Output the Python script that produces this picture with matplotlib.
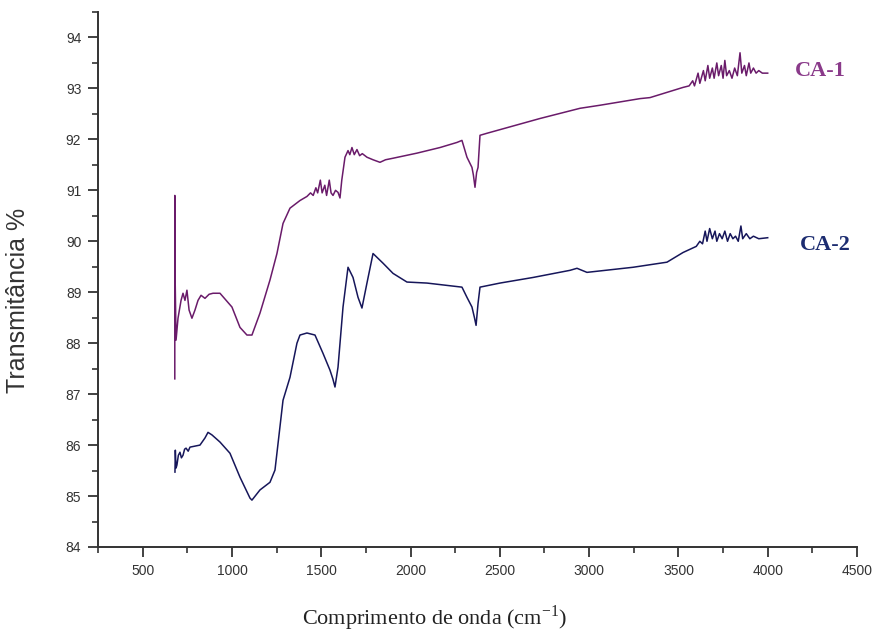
import matplotlib
matplotlib.use("Agg")
from matplotlib import pyplot as plt
from matplotlib.ticker import MultipleLocator

# CA-1
wn_ca1 = [680, 680, 681, 687, 698, 715, 726, 737, 748, 760, 776, 793, 810, 827, 849, 872, 894,
          933, 1000, 1045, 1084, 1112, 1157, 1213, 1252, 1286, 1325, 1381, 1420, 1440, 1455,
          1470, 1480, 1495, 1505, 1520, 1530, 1545, 1555, 1566, 1580, 1594, 1605, 1615, 1633,
          1650, 1660, 1672, 1685, 1700, 1715, 1730, 1756, 1790, 1829, 1860, 1902, 2036, 2165,
          2260, 2288, 2316, 2344, 2352, 2361, 2370, 2378, 2389, 2428, 2725, 2949, 3061, 3285,
          3341, 3526, 3560, 3580, 3590, 3610, 3620, 3640, 3650, 3665, 3675, 3690, 3700, 3715,
          3725, 3740, 3750, 3760, 3770, 3785, 3800, 3815, 3830, 3845, 3855, 3870, 3880, 3895,
          3905, 3920, 3935, 3950, 3970, 4000]
t_ca1 = [87.3, 90.9, 89.5, 88.06, 88.49, 88.84, 88.98, 88.84, 89.04, 88.65, 88.49, 88.65, 88.84,
         88.94, 88.88, 88.96, 88.98, 88.98, 88.71, 88.31, 88.16, 88.16, 88.59, 89.24, 89.76,
         90.35, 90.65, 90.80, 90.88, 90.95, 90.90, 91.05, 90.95, 91.20, 90.95, 91.10, 90.90,
         91.20, 90.95, 90.90, 91.00, 90.96, 90.85, 91.20, 91.65, 91.78, 91.70, 91.84, 91.70,
         91.80, 91.68, 91.72, 91.65, 91.60, 91.55, 91.60, 91.63, 91.73, 91.84, 91.94, 91.98,
         91.65, 91.45, 91.30, 91.06, 91.35, 91.45, 92.08, 92.12, 92.41, 92.61, 92.67, 92.80,
         92.82, 93.02, 93.05, 93.15, 93.05, 93.30, 93.10, 93.35, 93.15, 93.45, 93.20, 93.40,
         93.20, 93.50, 93.25, 93.45, 93.20, 93.55, 93.25, 93.35, 93.20, 93.40, 93.25, 93.70,
         93.30, 93.45, 93.25, 93.50, 93.30, 93.40, 93.30, 93.35, 93.30, 93.30]

# CA-2
wn_ca2 = [681, 683, 687, 692, 700, 709, 717, 726, 735, 743, 755, 765, 793, 821, 849, 866, 888,
          933, 989, 1045, 1101, 1112, 1157, 1213, 1241, 1286, 1325, 1364, 1381, 1420, 1465,
          1510, 1549, 1565, 1577, 1594, 1622, 1650, 1678, 1706, 1728, 1756, 1790, 1846, 1902,
          1980, 2092, 2288, 2316, 2344, 2358, 2367, 2378, 2389, 2501, 2686, 2893, 2932, 2988,
          3246, 3436, 3526, 3600, 3620, 3635, 3650, 3660, 3675, 3690, 3705, 3715, 3730, 3745,
          3760, 3775, 3790, 3805, 3820, 3835, 3850, 3860, 3880, 3900, 3920, 3950, 4000]
t_ca2 = [85.47, 85.90, 85.55, 85.61, 85.80, 85.86, 85.75, 85.80, 85.92, 85.94, 85.88, 85.96,
         85.98, 86.00, 86.14, 86.25, 86.20, 86.06, 85.84, 85.37, 84.96, 84.92, 85.12, 85.27,
         85.51, 86.88, 87.33, 88.00, 88.16, 88.20, 88.16, 87.80, 87.47, 87.30, 87.14, 87.53,
         88.71, 89.49, 89.29, 88.90, 88.69, 89.18, 89.76, 89.57, 89.37, 89.20, 89.18, 89.10,
         88.90, 88.71, 88.50, 88.35, 88.78, 89.10, 89.18, 89.29, 89.43, 89.47, 89.39, 89.49,
         89.59, 89.78, 89.90, 90.00, 89.95, 90.20, 90.00, 90.25, 90.05, 90.20, 90.00, 90.15,
         90.05, 90.20, 90.00, 90.15, 90.05, 90.10, 90.00, 90.30, 90.05, 90.15, 90.05, 90.10,
         90.05, 90.07]

nomes = ["CA-1", "CA-2"]
cor_linha = ["#6a1b6a", "#16165a"]
cor_texto = ["#8a3a8a", "#1c2c70"]

fig = plt.figure(figsize=(8.81, 6.41), dpi=100)
ax = fig.add_axes([98 / 881, 94 / 641, 759 / 881, 535 / 641])

ax.plot(wn_ca1, t_ca1, color=cor_linha[0], lw=1.1)
ax.plot(wn_ca2, t_ca2, color=cor_linha[1], lw=1.1)

ax.text(4150, 93.35, nomes[0], color=cor_texto[0], fontsize=16, fontweight="bold",
        family="Liberation Serif", ha="left", va="center")
ax.text(4180, 89.92, nomes[1], color=cor_texto[1], fontsize=16, fontweight="bold",
        family="Liberation Serif", ha="left", va="center")

ax.set_xlim(250, 4500)
ax.set_ylim(84, 94.5)
ax.xaxis.set_major_locator(MultipleLocator(500))
ax.xaxis.set_minor_locator(MultipleLocator(250))
ax.yaxis.set_major_locator(MultipleLocator(1))
ax.yaxis.set_minor_locator(MultipleLocator(0.5))

for lado in ["top", "right"]:
    ax.spines[lado].set_visible(False)
for lado in ["left", "bottom"]:
    ax.spines[lado].set_color("#333333")
    ax.spines[lado].set_linewidth(1.4)

ax.tick_params(which="major", direction="out", length=7, width=1.3, color="#333333",
               labelsize=10, labelcolor="#333333", pad=5)
ax.tick_params(which="minor", direction="out", length=4, width=1.2, color="#333333")
for lab in ax.get_xticklabels() + ax.get_yticklabels():
    lab.set_family("Liberation Sans")

ax.set_ylabel("Transmitância %", fontsize=18, family="Liberation Sans", color="#333333")
ax.yaxis.set_label_coords(-0.09, 0.46)
ax.set_xlabel("Comprimento de onda (cm$^{\\mathregular{-1}}$)", fontsize=16,
              family="Liberation Serif", color="#222222")
ax.xaxis.set_label_coords(0.444, -0.105)

fig.savefig("out.png", dpi=100)
